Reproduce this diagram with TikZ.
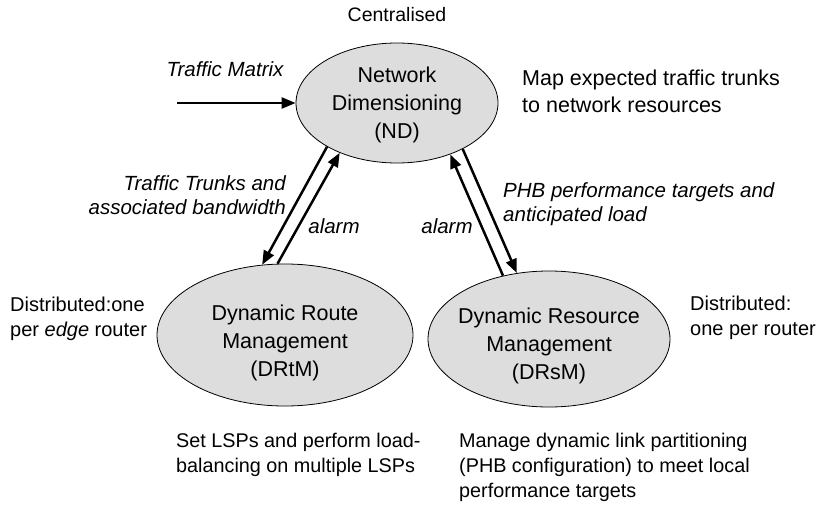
\documentclass[tikz,border=0pt]{standalone}
\usepackage{fontspec}
\setmainfont{Liberation Sans}
\usetikzlibrary{arrows.meta,shapes.geometric}
\definecolor{blockgray}{RGB}{221,221,221}
\begin{document}
\begin{tikzpicture}[x=1pt,y=-1pt,
  unit/.style={ellipse, draw=black, line width=0.8pt, fill=blockgray, inner sep=0pt},
  unittext/.style={inner sep=0pt, align=center, font=\fontsize{21.5}{28}\selectfont},
  note/.style={inner sep=0pt, align=left, font=\fontsize{19.8}{25}\selectfont},
  tag/.style={inner sep=0pt, font=\fontsize{20.5}{24.5}\selectfont\itshape},
  side/.style={inner sep=0pt, align=left, font=\fontsize{20}{25}\selectfont},
  flow/.style={line width=2.5pt, -{Triangle[length=14pt,width=11pt]}},
]
\useasboundingbox (0,0) rectangle (816,514);

% the three management blocks
\node[unit, minimum width=202pt, minimum height=120pt] (ND) at (397,103) {};
\node[unit, minimum width=256pt, minimum height=142pt] (DRtM) at (285,335) {};
\node[unit, minimum width=242pt, minimum height=136pt] (DRsM) at (549,339) {};
\node[unittext] (NDt) at ([yshift=-2pt]ND.center) {Network\\Dimensioning\\(ND)};
\node[unittext] (DRtMt) at ([yshift=-8pt]DRtM.center) {Dynamic Route\\Management\\(DRtM)};
\node[unittext] (DRsMt) at ([yshift=-7pt]DRsM.center) {Dynamic Resource\\Management\\(DRsM)};

% placement notes
\node[inner sep=0pt, font=\fontsize{19.5}{24}\selectfont] (cen) at (397,14.5) {Centralised};
\node[side, anchor=north west] (dedge) at (10,297) {Distributed:one\\per \textit{edge} router};
\node[side, anchor=north west] (dall) at (690,296) {Distributed:\\one per router};

% function descriptions
\node[note, font=\fontsize{21.5}{26.5}\selectfont, anchor=north west] (ndfun) at (522,70)
  {Map expected traffic trunks\\to network resources};
\node[note, anchor=north west] (rtfun) at (176,433)
  {Set LSPs and perform load-\\balancing on multiple LSPs};
\node[note, anchor=north west] (rsfun) at (459,433)
  {Manage dynamic link partitioning\\(PHB configuration) to meet local\\performance targets};

% input to ND
\coordinate (tmin) at (177,103);
\draw[flow] (tmin) -- (ND.west);
\node[tag] (tmlab) at (225,69.5) {Traffic Matrix};

% ND <-> DRtM
\draw[flow] (ND.212.9) -- (DRtM.108.6);
\draw[flow] (DRtM.96.3) -- (ND.221.5);
\node[tag, align=right, anchor=north east] (ttlab) at (286,175)
  {Traffic Trunks and\\associated bandwidth};
\node[tag] (al1) at (334,226) {alarm};

% ND <-> DRsM
\draw[flow] (ND.325.8) -- (DRsM.116.1);
\draw[flow] (DRsM.126.6) -- (ND.316.4);
\node[tag, align=left, anchor=north west] (phblab) at (503,182)
  {PHB performance targets and\\anticipated load};
\node[tag] (al2) at (447,226) {alarm};
\end{tikzpicture}
\end{document}
